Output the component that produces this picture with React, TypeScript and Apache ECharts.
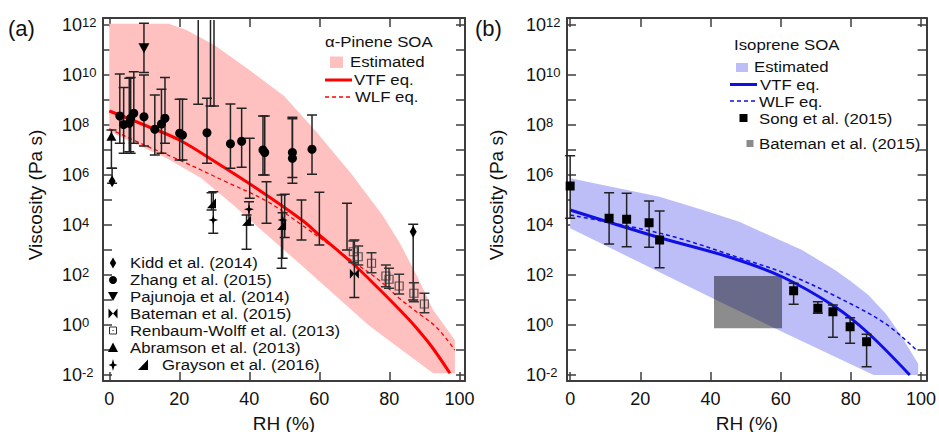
import React, { useEffect, useRef } from "react";
import * as echarts from "echarts";

const FONT = '"Liberation Sans", Arial, Helvetica, sans-serif';
const INK = "#111111";
const FRAME = "#3c3c3c";
const PINK = "#ffc0c0";
const BLUE_FILL = "#bdbef8";
const RED = "#ff0000";
const BLUE = "#0f0fe6";

// ---- axes (y values are log10 of viscosity in Pa s) ----
const yTickExps = [-2, -1, 0, 1, 2, 3, 4, 5, 6, 7, 8, 9, 10, 11, 12];
const yLabelExps = [-2, 0, 2, 4, 6, 8, 10, 12];
const xTickVals = [0, 20, 40, 60, 80, 100];
const Y_MIN = -2.24;
const Y_MAX = 12.28;

// ---- panel (a): alpha-pinene SOA ----
const aBandUpRH = [0, 17, 22, 30, 40, 50, 59, 69, 78, 83, 88, 92.5, 98.7, 98.7];
const aBandUpLog = [12.05, 12.05, 11.8, 11.2, 10.2, 9.15, 7.75, 6.07, 4.4, 3.27, 1.93, 0.6, -0.6, -1.93];
const aBandLoRH = [0, 7, 16, 26, 35, 43, 54, 66, 74, 84, 92.5];
const aBandLoLog = [7.75, 7.27, 6.7, 5.9, 4.85, 3.85, 2.5, 1.0, 0.0, -1.05, -1.93];

const aVtfRH = [0, 10, 20, 30, 42, 55, 60, 70, 77, 83, 87, 92, 97.3];
const aVtfLog = [8.56, 8.0, 7.4, 6.55, 5.47, 4.2, 3.6, 2.4, 1.45, 0.6, 0.0, -0.85, -1.93];
const aWlfRH = [0, 10, 20, 33, 45, 55, 63, 70, 77, 83, 88, 93.5, 98.7];
const aWlfLog = [7.85, 7.2, 6.6, 5.75, 4.95, 4.0, 3.2, 2.5, 1.8, 1.05, 0.5, -0.1, -1.0];

const kiddRH = [0.8, 86.8];
const kiddLog = [5.75, 3.73];
const kiddLo = [5.67, 1.0];
const kiddHi = [6.27, 4.03];

const zhangRH = [3.0, 4.1, 5.7, 6.1, 7.0, 9.9, 13.0, 14.9, 15.9, 20.1, 20.9, 27.9, 34.6, 37.8, 43.9, 44.4, 52.3, 52.3, 57.9];
const zhangLog = [8.36, 8.02, 8.07, 8.27, 8.47, 8.33, 7.83, 8.04, 8.27, 7.67, 7.6, 7.69, 7.25, 7.35, 7.0, 6.9, 6.9, 6.67, 7.03];
const zhangLo = [7.27, 6.87, 6.93, 6.87, 7.27, 7.16, 6.8, 6.87, 7.27, 6.6, 6.6, 6.47, 6.27, 6.31, 6.0, 6.0, 5.9, 5.67, 6.03];
const zhangHi = [10.04, 9.5, 9.87, 9.9, 10.13, 10.0, 9.2, 9.43, 9.9, 9.03, 9.03, 9.07, 8.84, 8.67, 8.36, 8.36, 8.31, 8.25, 8.4];

const pajRH = [9.9];
const pajLog = [11.07];
const pajLo = [10.1];
const pajHi = [12.07];

const batARH = [70.0];
const batALog = [2.05];
const batALo = [1.1];
const batAHi = [3.4];

const renRH = [69.7, 71.1, 74.9, 79.0, 79.9, 82.8, 87.0, 90.0];
const renLog = [2.93, 2.73, 2.47, 1.96, 1.83, 1.56, 1.27, 0.84];
const renLo = [2.5, 2.4, 2.09, 1.53, 1.47, 1.24, 0.93, 0.49];
const renHi = [3.36, 3.16, 2.89, 2.4, 2.27, 2.03, 1.69, 1.27];

const abrRH = [0.6];
const abrLog = [7.55];
const abrLo = [6.27];
const abrHi = [7.8];

const grayStarRH = [29.7, 39.9, 49.5];
const grayStarLog = [4.2, 4.63, 4.2];
const grayStarLo = [3.67, 4.0, 2.67];
const grayStarHi = [5.33, 4.93, 4.49];

const grayTriRH = [29.2, 39.2, 49.2];
const grayTriLog = [4.87, 4.17, 4.0];
const grayTriLo = [4.6, 3.03, 2.27];
const grayTriHi = [5.29, 4.4, 5.2];

// error bars whose markers are not visible
const bareRH = [40.1, 44.9, 50.1, 54.9, 60.0, 67.9];
const bareLo = [5.07, 4.07, 3.5, 3.4, 3.2, 3.0];
const bareHi = [7.47, 5.73, 5.23, 5.0, 5.31, 4.87];

// error bars running off the top of the plot
const openRH = [25.4, 28.9, 29.9];
const openLo = [8.83, 8.76, 8.76];

// ---- panel (b): isoprene SOA ----
const bBandUpRH = [0, 25.5, 37.8, 48.2, 66.1, 75.5, 80, 85, 90, 94, 99.2, 99.2];
const bBandUpLog = [5.87, 5.13, 4.6, 4.13, 3.0, 2.2, 1.75, 1.2, 0.45, -0.35, -1.55, -2.0];
const bBandLoRH = [0, 40.6, 60.4, 86.5];
const bBandLoLog = [3.87, 1.07, -0.27, -2.0];

const bVtfRH = [0, 24.6, 45.3, 60.4, 75.5, 85, 96.8];
const bVtfLog = [4.6, 3.53, 2.72, 1.93, 0.73, -0.33, -2.0];
const bWlfRH = [0, 20, 32, 49, 62, 75, 89.7, 98.7];
const bWlfLog = [4.4, 3.85, 3.43, 2.65, 2.03, 1.2, 0.07, -1.0];

const songRH = [0, 11.1, 16.1, 22.5, 25.5, 63.7, 70.6, 74.9, 79.8, 84.5];
const songLog = [5.56, 4.27, 4.23, 4.09, 3.4, 1.37, 0.67, 0.53, -0.07, -0.67];
const songLo = [4.27, 3.24, 3.13, 3.11, 2.29, 0.83, 0.47, -0.49, -0.73, -1.67];
const songHi = [6.77, 5.29, 5.27, 4.96, 4.56, 1.67, 0.93, 0.8, 0.29, -0.37];

const batBRH = [41, 60.4];
const batBLog = [-0.13, 1.96];

// ---------------------------------------------------------------
const pairs = (xs: number[], ys: number[]) => xs.map((x, i) => [x, ys[i]]);

function bandSeries(xi: number, upX: number[], upY: number[], loX: number[], loY: number[], color: string) {
  return {
    type: "custom",
    xAxisIndex: xi,
    yAxisIndex: xi,
    z: 1,
    silent: true,
    data: [[50, 5]],
    renderItem: (_p: any, api: any) => {
      const pts: number[][] = [];
      upX.forEach((x, i) => pts.push(api.coord([x, upY[i]])));
      for (let i = loX.length - 1; i >= 0; i--) pts.push(api.coord([loX[i], loY[i]]));
      return { type: "polygon", shape: { points: pts }, style: { fill: color } };
    },
  };
}

function lineSeries(xi: number, xs: number[], ys: number[], color: string, width: number, dashed: boolean) {
  return {
    type: "line",
    xAxisIndex: xi,
    yAxisIndex: xi,
    z: 3,
    silent: true,
    data: pairs(xs, ys),
    showSymbol: false,
    symbol: "none",
    smooth: 0.35,
    lineStyle: { color, width, type: dashed ? [4, 3] : "solid" },
  };
}

function errSeries(xi: number, xs: number[], lo: number[], hi: number[], color = "#222", half = 5) {
  return {
    type: "custom",
    xAxisIndex: xi,
    yAxisIndex: xi,
    z: 4,
    silent: true,
    data: xs.map((x, i) => [x, lo[i], hi[i]]),
    renderItem: (_p: any, api: any) => {
      const x = api.value(0);
      const a = api.coord([x, api.value(1)]);
      const b = api.coord([x, api.value(2)]);
      const style = { stroke: color, lineWidth: 1.5 };
      return {
        type: "group",
        children: [
          { type: "line", shape: { x1: a[0], y1: a[1], x2: b[0], y2: b[1] }, style },
          { type: "line", shape: { x1: a[0] - half, y1: a[1], x2: a[0] + half, y2: a[1] }, style },
          { type: "line", shape: { x1: b[0] - half, y1: b[1], x2: b[0] + half, y2: b[1] }, style },
        ],
      };
    },
  };
}

function openSeries(xi: number, xs: number[], lo: number[]) {
  return {
    type: "custom",
    xAxisIndex: xi,
    yAxisIndex: xi,
    z: 4,
    silent: true,
    data: xs.map((x, i) => [x, lo[i]]),
    renderItem: (_p: any, api: any) => {
      const x = api.value(0);
      const a = api.coord([x, api.value(1)]);
      const b = api.coord([x, Y_MAX]);
      const style = { stroke: "#222", lineWidth: 1.5 };
      return {
        type: "group",
        children: [
          { type: "line", shape: { x1: a[0], y1: a[1], x2: b[0], y2: b[1] + 2 }, style },
          { type: "line", shape: { x1: a[0] - 5, y1: a[1], x2: a[0] + 5, y2: a[1] }, style },
        ],
      };
    },
  };
}

function scatter(xi: number, xs: number[], ys: number[], symbol: string, size: any, extra: any = {}) {
  return {
    type: "scatter",
    xAxisIndex: xi,
    yAxisIndex: xi,
    z: 5,
    silent: true,
    data: pairs(xs, ys),
    symbol,
    symbolSize: size,
    itemStyle: { color: "#000", opacity: 1 },
    ...extra,
  };
}

function rectSeries(xi: number, xs: number[], ys: number[], fill: string) {
  return {
    type: "custom",
    xAxisIndex: xi,
    yAxisIndex: xi,
    z: 2,
    silent: true,
    data: [[xs[0], ys[0], xs[1], ys[1]]],
    renderItem: (_p: any, api: any) => {
      const p0 = api.coord([api.value(0), api.value(3)]);
      const p1 = api.coord([api.value(2), api.value(1)]);
      return {
        type: "rect",
        shape: { x: p0[0], y: p0[1], width: p1[0] - p0[0], height: p1[1] - p0[1] },
        style: { fill },
      };
    },
  };
}

const yAxis = (gridIndex: number, position: string, labels: boolean) => ({
  type: "value",
  gridIndex,
  position,
  min: Y_MIN,
  max: Y_MAX,
  axisLine: { show: true, onZero: false, lineStyle: { color: FRAME, width: 2 } },
  axisTick: { show: true, inside: true, length: 9, customValues: yTickExps, lineStyle: { color: FRAME, width: 1.5 } },
  axisLabel: {
    show: labels,
    customValues: yLabelExps,
    align: "left",
    margin: 41,
    formatter: (v: number) => `{b|10}{s|${v}}`,
    rich: {
      b: { fontSize: 18, fontFamily: FONT, color: INK, lineHeight: 18, verticalAlign: "bottom" },
      s: { fontSize: 13, fontFamily: FONT, color: INK, lineHeight: 13, verticalAlign: "top", padding: [0, 0, 10, 0] },
    },
  },
  splitLine: { show: false },
});

const xAxis = (gridIndex: number, position: string, min: number, max: number, labels: boolean) => ({
  type: "value",
  gridIndex,
  position,
  min,
  max,
  axisLine: { show: true, onZero: false, lineStyle: { color: FRAME, width: 2 } },
  axisTick: { show: true, inside: true, length: 9, customValues: xTickVals, lineStyle: { color: FRAME, width: 1.5 } },
  axisLabel: {
    show: labels,
    customValues: xTickVals,
    margin: 9,
    fontSize: 18,
    fontFamily: FONT,
    color: INK,
  },
  splitLine: { show: false },
});

// legend texts: slightly smaller glyph height, stretched horizontally to match the reference widths
const LF = 14.6;
const LSX = 1.15;
const txt = (x: number, y: number, text: string, size = LF, extra: any = {}, sx = LSX) => ({
  type: "text",
  x,
  y,
  scaleX: sx,
  silent: true,
  z: 10,
  style: {
    text,
    fontSize: size,
    fontFamily: FONT,
    fill: INK,
    align: "left",
    verticalAlign: "middle",
    ...extra,
  },
});
const poly = (points: number[][], fill = "#000") => ({ type: "polygon", z: 10, silent: true, shape: { points }, style: { fill } });
const seg = (x1: number, y1: number, x2: number, y2: number, stroke: string, lineWidth: number, dash?: number[]) => ({
  type: "line",
  z: 10,
  silent: true,
  shape: { x1, y1, x2, y2 },
  style: { stroke, lineWidth, lineDash: dash || null },
});

function buildGraphics() {
  const g: any[] = [];
  g.push(txt(8, 28, "(a)", 22, {}, 1));
  g.push(txt(475, 28, "(b)", 22, {}, 1));
  g.push({ type: "text", x: 35, y: 195, rotation: Math.PI / 2, silent: true, style: { text: "Viscosity (Pa s)", fontSize: 19, fontFamily: FONT, fill: INK, align: "center", verticalAlign: "middle" } });
  g.push({ type: "text", x: 496, y: 195, rotation: Math.PI / 2, silent: true, style: { text: "Viscosity (Pa s)", fontSize: 19, fontFamily: FONT, fill: INK, align: "center", verticalAlign: "middle" } });
  g.push(txt(284, 423, "RH (%)", 19, { align: "center" }, 1));
  g.push(txt(747, 423, "RH (%)", 19, { align: "center" }, 1));

  // panel (a) upper-right legend
  g.push(txt(325, 42, "α-Pinene SOA"));
  g.push({ type: "rect", z: 10, silent: true, shape: { x: 330, y: 56.5, width: 13, height: 11.5 }, style: { fill: PINK } });
  g.push(txt(350, 62, "Estimated"));
  g.push(seg(325, 80, 352, 80, RED, 3));
  g.push(txt(354, 80, "VTF eq."));
  g.push(seg(325, 97, 352, 97, RED, 1.3, [4, 3]));
  g.push(txt(355, 97, "WLF eq."));

  // panel (a) lower-left legend
  const mx = 113;
  g.push(poly([[mx, 257.5], [mx + 3.2, 263], [mx, 268.5], [mx - 3.2, 263]]));
  g.push(txt(130, 263, "Kidd et al. (2014)"));
  g.push({ type: "circle", z: 10, silent: true, shape: { cx: mx, cy: 280, r: 4 }, style: { fill: "#000" } });
  g.push(txt(130, 280, "Zhang et al. (2015)"));
  g.push(poly([[mx - 5, 292], [mx + 5, 292], [mx, 301]]));
  g.push(txt(130, 296.5, "Pajunoja et al. (2014)"));
  g.push(poly([[mx - 4.5, 308.5], [mx, 313.5], [mx - 4.5, 318.5]]));
  g.push(poly([[mx + 4.5, 308.5], [mx, 313.5], [mx + 4.5, 318.5]]));
  g.push(txt(130, 313.5, "Bateman et al. (2015)"));
  g.push({ type: "rect", z: 10, silent: true, shape: { x: mx - 3.5, y: 327, width: 7, height: 7 }, style: { fill: "none", stroke: "#333", lineWidth: 1 } });
  g.push({ type: "rect", z: 10, silent: true, shape: { x: mx - 0.6, y: 329.9, width: 1.2, height: 1.2 }, style: { fill: "#333" } });
  g.push(txt(130, 330.5, "Renbaum-Wolff et al. (2013)"));
  g.push(poly([[mx - 5, 352], [mx + 5, 352], [mx, 342.5]]));
  g.push(txt(130, 347.5, "Abramson et al. (2013)"));
  g.push(poly([[mx, 359], [mx + 1.3, 363.7], [mx + 4.5, 365], [mx + 1.3, 366.3], [mx, 371], [mx - 1.3, 366.3], [mx - 4.5, 365], [mx - 1.3, 363.7]]));
  g.push(poly([[148, 359.5], [148, 370], [138, 370]]));
  g.push(txt(162, 365, "Grayson et al. (2016)"));

  // panel (b) legend
  g.push(txt(734, 45, "Isoprene SOA"));
  g.push({ type: "rect", z: 10, silent: true, shape: { x: 736, y: 63, width: 12, height: 9 }, style: { fill: BLUE_FILL } });
  g.push(txt(754, 67, "Estimated"));
  g.push(seg(730, 84.5, 757, 84.5, BLUE, 3));
  g.push(txt(760, 84.5, "VTF eq."));
  g.push(seg(730, 101, 756, 101, BLUE, 1.5, [4, 3]));
  g.push(txt(759, 101.5, "WLF eq."));
  g.push({ type: "rect", z: 10, silent: true, shape: { x: 739.5, y: 114, width: 8, height: 8 }, style: { fill: "#000" } });
  g.push(txt(759, 118.5, "Song et al. (2015)"));
  g.push({ type: "rect", z: 10, silent: true, shape: { x: 746.5, y: 140, width: 7, height: 7 }, style: { fill: "#8a8a8a" } });
  g.push(txt(759, 143.5, "Bateman et al. (2015)"));
  return g;
}

export default function App() {
  const ref = useRef<HTMLDivElement>(null);
  useEffect(() => {
    if (!ref.current) return;
    const chart = echarts.init(ref.current, undefined, { renderer: "svg" });
    const diamondPath = "path://M5,0L8,10L5,20L2,10Z";
    const bowtie = "path://M0,0L5,5L0,10Z M10,0L5,5L10,10Z";
    const star4 = "path://M5,0L6.2,3.8L10,5L6.2,6.2L5,10L3.8,6.2L0,5L3.8,3.8Z";
    const halfTri = "path://M10,0L10,10L0,10Z";
    const option: any = {
      animation: false,
      textStyle: { fontFamily: FONT },
      grid: [
        { left: 103, top: 18, width: 362, height: 363, containLabel: false },
        { left: 567, top: 18, width: 362, height: 363, containLabel: false },
      ],
      xAxis: [
        xAxis(0, "bottom", -1.8, 101.6, true),
        xAxis(0, "top", -1.8, 101.6, false),
        xAxis(1, "bottom", -0.9, 101.6, true),
        xAxis(1, "top", -0.9, 101.6, false),
      ],
      yAxis: [yAxis(0, "left", true), yAxis(0, "right", false), yAxis(1, "left", true), yAxis(1, "right", false)],
      series: [
        // panel (a)
        bandSeries(0, aBandUpRH, aBandUpLog, aBandLoRH, aBandLoLog, PINK),
        lineSeries(0, aVtfRH, aVtfLog, RED, 3, false),
        lineSeries(0, aWlfRH, aWlfLog, RED, 1.3, true),
        openSeries(0, openRH, openLo),
        errSeries(0, bareRH, bareLo, bareHi),
        errSeries(0, zhangRH, zhangLo, zhangHi),
        errSeries(0, kiddRH, kiddLo, kiddHi),
        errSeries(0, pajRH, pajLo, pajHi),
        errSeries(0, batARH, batALo, batAHi),
        errSeries(0, renRH, renLo, renHi, "#333"),
        errSeries(0, abrRH, abrLo, abrHi),
        errSeries(0, grayStarRH, grayStarLo, grayStarHi),
        errSeries(0, grayTriRH, grayTriLo, grayTriHi),
        scatter(0, zhangRH, zhangLog, "circle", 9),
        scatter(0, kiddRH, kiddLog, diamondPath, [7, 12]),
        scatter(0, pajRH, pajLog, "triangle", [11, 10], { symbolRotate: 180 }),
        scatter(0, batARH, batALog, bowtie, [9, 10]),
        scatter(0, renRH, renLog, "rect", 8, { itemStyle: { color: "rgba(0,0,0,0)", borderColor: "#333", borderWidth: 1.2 } }),
        scatter(0, abrRH, abrLog, "triangle", [10, 9]),
        scatter(0, grayStarRH, grayStarLog, star4, 10),
        scatter(0, grayTriRH, grayTriLog, halfTri, [9, 10]),
        // panel (b)
        bandSeries(2, bBandUpRH, bBandUpLog, bBandLoRH, bBandLoLog, BLUE_FILL),
        rectSeries(2, batBRH, batBLog, "rgba(0,0,0,0.45)"),
        lineSeries(2, bVtfRH, bVtfLog, BLUE, 3, false),
        lineSeries(2, bWlfRH, bWlfLog, BLUE, 1.5, true),
        errSeries(2, songRH, songLo, songHi),
        scatter(2, songRH, songLog, "rect", 9),
      ],
      graphic: buildGraphics(),
    };
    chart.setOption(option);
    return () => chart.dispose();
  }, []);
  return <div ref={ref} style={{ position: "absolute", left: 0, top: 0, width: 939, height: 432, background: "#fff" }} />;
}
